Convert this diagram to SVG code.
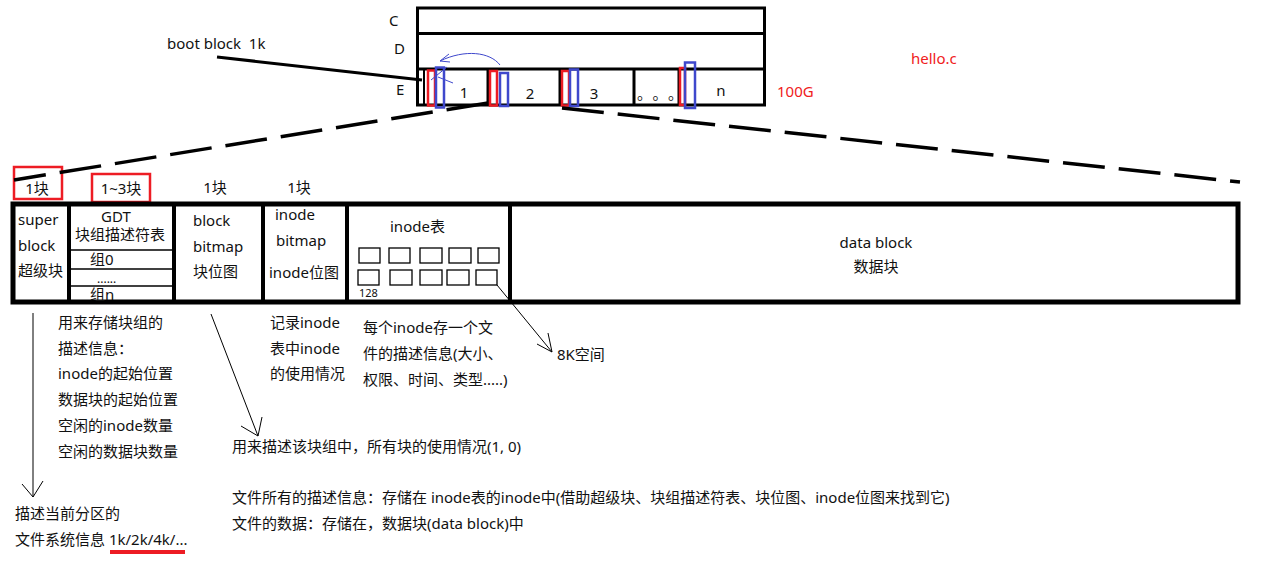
<svg xmlns="http://www.w3.org/2000/svg" width="1266" height="570" viewBox="0 0 1266 570">
<style>
text{font-family:"Noto Sans","Noto Sans CJK SC",sans-serif;font-size:15px;fill:#111}
.red{fill:#f02020}
.c{text-anchor:middle}
.thick{fill:none;stroke:#000;stroke-width:3}
.tbl{fill:none;stroke:#000;stroke-width:5}
.div{stroke:#000;stroke-width:4}
.thin{fill:none;stroke:#000;stroke-width:1.3}
.rb{fill:none;stroke:#ed1c24;stroke-width:2.5}
.bb{fill:none;stroke:#3f48cc;stroke-width:2.5}
.dash{fill:none;stroke:#000;stroke-width:3.5;stroke-dasharray:42 14}
.arr{fill:none;stroke:#000;stroke-width:1}
</style>
<rect width="1266" height="570" fill="#fff"/>
<g id="disk">
<rect class="thick" x="417.5" y="8" width="347" height="97"/>
<line class="thick" x1="417" y1="33.5" x2="765" y2="33.5"/>
<line class="thick" x1="417" y1="69" x2="765" y2="69"/>
<line stroke="#000" stroke-width="2" x1="424" y1="69" x2="424" y2="105"/>
<line class="thick" x1="488" y1="69" x2="488" y2="105"/>
<line class="thick" x1="560" y1="69" x2="560" y2="105"/>
<line class="thick" x1="634" y1="69" x2="634" y2="105"/>
<line class="thick" x1="679" y1="69" x2="679" y2="105"/>
<text x="389" y="26">C</text>
<text x="394" y="54">D</text>
<text x="396" y="95">E</text>
<text class="c" x="464" y="98">1</text>
<text class="c" x="530" y="99">2</text>
<text class="c" x="594" y="99">3</text>
<text x="637" y="99" style="font-family:'Noto Sans CJK SC',sans-serif;letter-spacing:8px">。。。</text>
<text class="c" x="721" y="96">n</text>
<rect class="rb" x="428" y="70.5" width="7" height="35"/>
<rect class="bb" x="436" y="67.5" width="8" height="40"/>
<rect class="rb" x="490" y="71" width="7" height="34.5"/>
<rect class="bb" x="500" y="73" width="8" height="33"/>
<rect class="rb" x="562" y="71" width="7" height="34.5"/>
<rect class="bb" x="570" y="69.5" width="8" height="36.5"/>
<rect class="rb" x="680" y="68" width="5" height="37"/>
<rect class="bb" x="685" y="62.5" width="10" height="45.5"/>
<text class="red" x="777" y="97">100G</text>
</g>
<g id="blue-doodle" fill="none" stroke="#3f48cc" stroke-width="1">
<path d="M500,65 C490,52 465,49 440,61"/>
<path d="M440,61 L449,54 M440,61 L450,62"/>
<path d="M447,67 L431,80 M438,77 L453,83"/>
</g>
<g id="labels-top">
<text x="167" y="49" xml:space="preserve">boot block  1k</text>
<text class="red" x="911" y="64">hello.c</text>
</g>
<g id="size-labels">
<rect class="rb" x="14" y="167" width="48" height="32"/>
<text class="c" x="37" y="194">1块</text>
<rect class="rb" x="92" y="174" width="58" height="28"/>
<text class="c" x="121" y="194">1~3块</text>
<text class="c" x="215" y="193">1块</text>
<text class="c" x="299" y="193">1块</text>
</g>
<g id="group-table">
<rect class="tbl" x="13" y="204" width="1225" height="98"/>
<line class="div" x1="69" y1="204" x2="69" y2="302"/>
<line class="div" x1="174" y1="204" x2="174" y2="302"/>
<line class="div" x1="263" y1="204" x2="263" y2="302"/>
<line class="div" x1="347" y1="204" x2="347" y2="302"/>
<line class="div" x1="510" y1="204" x2="510" y2="302"/>
</g>
<g id="superblock">
<text x="18" y="225">super</text>
<text x="18" y="251">block</text>
<text x="18" y="276">超级块</text>
</g>
<g id="gdt">
<text class="c" x="116" y="222">GDT</text>
<text class="c" x="120" y="240">块组描述符表</text>
<line class="thin" x1="71" y1="250" x2="172" y2="250"/>
<text x="90" y="265">组0</text>
<line class="thin" x1="71" y1="269" x2="172" y2="269"/>
<text x="97" y="283" style="font-size:12px">......</text>
<line class="thin" x1="71" y1="286" x2="172" y2="286"/>
<text x="90" y="300">组n</text>
</g>
<g id="block-bitmap">
<text x="193" y="226">block</text>
<text x="193" y="252">bitmap</text>
<text x="193" y="277">块位图</text>
</g>
<g id="inode-bitmap">
<text x="275" y="220">inode</text>
<text x="276" y="246">bitmap</text>
<text x="269" y="278">inode位图</text>
</g>
<g id="inode-table">
<text x="390" y="232">inode表</text>
<rect class="thin" x="359" y="248" width="21" height="15"/>
<rect class="thin" x="389" y="248" width="21" height="15"/>
<rect class="thin" x="420" y="248" width="22" height="15"/>
<rect class="thin" x="449" y="248" width="22" height="15"/>
<rect class="thin" x="478" y="248" width="21" height="15"/>
<rect class="thin" x="358" y="270" width="21" height="15"/>
<rect class="thin" x="390" y="270" width="22" height="15"/>
<rect class="thin" x="420" y="270" width="22" height="15"/>
<rect class="thin" x="447" y="270" width="22" height="15"/>
<rect class="thin" x="476" y="270" width="21" height="15"/>
<text x="359" y="297" style="font-size:11px">128</text>
</g>
<g id="data-block">
<text class="c" x="876" y="248">data block</text>
<text class="c" x="876" y="272">数据块</text>
</g>
<g id="connectors">
<line stroke="#000" stroke-width="3" x1="217" y1="57" x2="422" y2="80"/>
<line class="dash" x1="488" y1="103" x2="14" y2="180"/>
<line class="dash" x1="562" y1="108" x2="1240" y2="182"/>
<path class="arr" d="M33,313 L33,497 M22,484 L33,497 L43,481"/>
<path class="arr" d="M211,314 L258,436 M241,426 L258,436 L262,417"/>
<path class="arr" d="M497,285 L552,352 M537,344 L552,352 L548,333"/>
<line stroke="#ed1c24" stroke-width="4" x1="110" y1="552" x2="185" y2="552"/>
</g>
<g id="notes">
<text x="58" y="328">用来存储块组的</text>
<text x="58" y="354">描述信息：</text>
<text x="58" y="379">inode的起始位置</text>
<text x="58" y="405">数据块的起始位置</text>
<text x="58" y="431">空闲的inode数量</text>
<text x="58" y="457">空闲的数据块数量</text>
<text x="15" y="519">描述当前分区的</text>
<text x="15" y="545">文件系统信息 1k/2k/4k/...</text>
<text x="270" y="328">记录inode</text>
<text x="270" y="354">表中inode</text>
<text x="270" y="379">的使用情况</text>
<text x="363" y="333">每个inode存一个文</text>
<text x="363" y="359">件的描述信息(大小、</text>
<text x="363" y="385">权限、时间、类型.....)</text>
<text x="557" y="360">8K空间</text>
<text x="232" y="452">用来描述该块组中，所有块的使用情况(1, 0)</text>
<text x="232" y="503">文件所有的描述信息：存储在 inode表的inode中(借助超级块、块组描述符表、块位图、inode位图来找到它)</text>
<text x="232" y="529">文件的数据：存储在，数据块(data block)中</text>
</g>
</svg>
